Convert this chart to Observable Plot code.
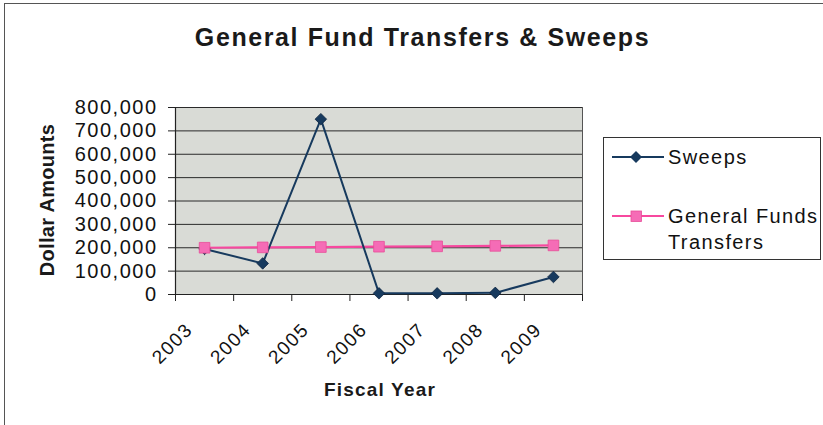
<!DOCTYPE html>
<html>
<head>
<meta charset="utf-8">
<script src="https://cdn.jsdelivr.net/npm/d3@7"></script>
<script src="https://cdn.jsdelivr.net/npm/@observablehq/plot@0.6"></script>
<style>
  html, body { margin: 0; padding: 0; background: #fff; overflow: hidden; }
  #wrap { position: relative; width: 823px; height: 425px; font-family: Arial, "Liberation Sans", sans-serif; color: #111; }
  #frame { position: absolute; left: 4px; top: 3px; width: 900px; height: 500px; border: 1.5px solid #555; box-sizing: border-box; }
  #title { position: absolute; left: 0; width: 845px; top: 23px; text-align: center; font-weight: bold; font-size: 25px; letter-spacing: 1.6px; color: #1a1a1a; }
  #ytitle { position: absolute; left: 47px; top: 200px; transform: translate(-50%, -50%) rotate(-90deg); font-weight: bold; font-size: 20px; letter-spacing: 0.3px; white-space: nowrap; color: #1a1a1a; }
  #xtitle { position: absolute; left: 380px; top: 390px; transform: translate(-50%, -50%); font-weight: bold; font-size: 19px; letter-spacing: 1.2px; white-space: nowrap; color: #1a1a1a; }
  #legend { position: absolute; left: 603px; top: 137px; width: 218px; height: 123px; border: 1.5px solid #333; box-sizing: border-box; background: #fff; }
  #legend svg { position: absolute; left: 0; top: 0; }
  .lt { position: absolute; font-size: 20px; letter-spacing: 1.4px; white-space: nowrap; line-height: 1; color: #111; }
  #plot svg text { letter-spacing: 1.5px; }
</style>
</head>
<body>
<div id="wrap">
  <div id="plot"></div>
  <div id="frame"></div>
  <div id="title">General Fund Transfers &amp; Sweeps</div>
  <div id="ytitle">Dollar Amounts</div>
  <div id="xtitle">Fiscal Year</div>
  <div id="legend"></div>
</div>
<script>
const years = ["2003", "2004", "2005", "2006", "2007", "2008", "2009"];
const sweeps = [195000, 133000, 750000, 5000, 5000, 7000, 75000];
const transfers = [200000, 201500, 203000, 204500, 206000, 208000, 210000];
const yTicks = [0, 100000, 200000, 300000, 400000, 500000, 600000, 700000, 800000];
const seriesNames = ["Sweeps", "General Funds Transfers"];

const navy = "#173a5e";
const pinkLine = "#f7489f";
const pinkFill = "#f56cb6";

const rows = years.map((y, i) => ({year: y, i, pos: i + 0.5, sweeps: sweeps[i], transfers: transfers[i]}));

const diamond = {
  draw(ctx, size) {
    const r = Math.sqrt(size / 2);
    ctx.moveTo(0, -r); ctx.lineTo(r, 0); ctx.lineTo(0, r); ctx.lineTo(-r, 0); ctx.closePath();
  }
};

const chart = Plot.plot({
  width: 823,
  height: 425,
  marginLeft: 175,
  marginRight: 241,
  marginTop: 107,
  marginBottom: 131,
  style: {fontFamily: 'Arial, "Liberation Sans", sans-serif', fontSize: "20px", background: "transparent", color: "#111"},
  x: {type: "linear", domain: [0, years.length], axis: null, label: null},
  y: {domain: [0, 800000], axis: null, label: null},
  marks: [
    Plot.frame({fill: "#d9dbd6", stroke: "#555"}),
    Plot.gridY(yTicks, {stroke: "#2a2a2a", strokeOpacity: 1, strokeWidth: 1}),
    Plot.axisY(yTicks, {tickSize: 7, tickPadding: 11, tickFormat: d3.format(","), stroke: "#222", fill: "#111", fontSize: 20, label: null}),
    Plot.ruleX([0], {stroke: "#222", strokeWidth: 1.2}),
    Plot.axisX(d3.range(years.length + 1), {tickSize: 7, tickFormat: () => "", stroke: "#222", label: null}),
    Plot.ruleY([0], {stroke: "#222", strokeWidth: 1.2}),
    Plot.text(rows, {x: "pos", y: () => 0, text: "year", rotate: -45, textAnchor: "end", dx: -15, dy: 32, fontSize: 19, fill: "#111"}),
    Plot.line(rows, {x: "pos", y: "transfers", stroke: pinkLine, strokeWidth: 2.2}),
    Plot.line(rows, {x: "pos", y: "sweeps", stroke: navy, strokeWidth: 2}),
    Plot.dot(rows, {x: "pos", y: "sweeps", symbol: diamond, r: 4.6, fill: navy, stroke: "#0e2540", strokeWidth: 0.8}),
    Plot.dot(rows, {x: "pos", y: "transfers", symbol: "square", r: 6, fill: pinkFill, stroke: "#e84d98", strokeWidth: 0.8})
  ]
});
document.getElementById("plot").appendChild(chart);

// Legend
const legend = document.getElementById("legend");
const ns = "http://www.w3.org/2000/svg";
const lsvg = document.createElementNS(ns, "svg");
lsvg.setAttribute("width", 218);
lsvg.setAttribute("height", 123);
lsvg.innerHTML =
  `<line x1="8" x2="60" y1="19" y2="19" stroke="${navy}" stroke-width="2"/>` +
  `<path d="M32,13 L38,19 L32,25 L26,19 Z" fill="${navy}"/>` +
  `<line x1="8" x2="60" y1="78" y2="78" stroke="${pinkLine}" stroke-width="2.2"/>` +
  `<rect x="27" y="73" width="10.5" height="10.5" fill="${pinkFill}" stroke="#e84d98" stroke-width="0.8"/>`;
legend.appendChild(lsvg);
const t1 = document.createElement("div");
t1.className = "lt"; t1.style.left = "64px"; t1.style.top = "9px"; t1.textContent = seriesNames[0];
const t2 = document.createElement("div");
t2.className = "lt"; t2.style.left = "64px"; t2.style.top = "68px"; t2.textContent = "General Funds";
const t3 = document.createElement("div");
t3.className = "lt"; t3.style.left = "64px"; t3.style.top = "94px"; t3.textContent = "Transfers";
legend.appendChild(t1); legend.appendChild(t2); legend.appendChild(t3);
</script>
</body>
</html>
